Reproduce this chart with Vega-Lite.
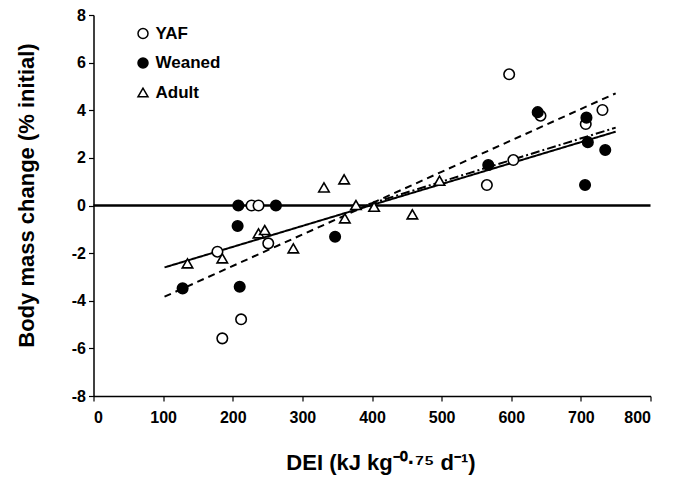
{
  "$schema": "https://vega.github.io/schema/vega-lite/v6.json",
  "autosize": {"type": "none"},
  "width": 557,
  "height": 381,
  "padding": {"left": 93.5, "top": 15, "right": 27.5, "bottom": 83},
  "background": "white",
  "config": {
    "view": {"stroke": null},
    "font": "Liberation Sans",
    "axis": {
      "grid": false,
      "domainColor": "black",
      "domainWidth": 1.5,
      "tickColor": "black",
      "tickWidth": 1.2,
      "tickSize": 5,
      "labelFont": "Liberation Sans",
      "labelFontWeight": "bold",
      "labelFontSize": 16,
      "labelColor": "black",
      "titleFont": "Liberation Sans",
      "titleFontWeight": "bold",
      "titleColor": "black",
      "labelOverlap": false
    }
  },
  "datasets": {
    "points": [
      {"group": "YAF", "dei": 227, "change": 0},
      {"group": "YAF", "dei": 237, "change": 0},
      {"group": "YAF", "dei": 251, "change": -1.59},
      {"group": "YAF", "dei": 178, "change": -1.94},
      {"group": "YAF", "dei": 212, "change": -4.78},
      {"group": "YAF", "dei": 185, "change": -5.58},
      {"group": "YAF", "dei": 565, "change": 0.86},
      {"group": "YAF", "dei": 597, "change": 5.51},
      {"group": "YAF", "dei": 642, "change": 3.77},
      {"group": "YAF", "dei": 707, "change": 3.42},
      {"group": "YAF", "dei": 731, "change": 4.01},
      {"group": "YAF", "dei": 603, "change": 1.91},
      {"group": "Weaned", "dei": 208, "change": 0},
      {"group": "Weaned", "dei": 262, "change": 0},
      {"group": "Weaned", "dei": 207, "change": -0.86},
      {"group": "Weaned", "dei": 128, "change": -3.48},
      {"group": "Weaned", "dei": 210, "change": -3.41},
      {"group": "Weaned", "dei": 347, "change": -1.31},
      {"group": "Weaned", "dei": 567, "change": 1.7},
      {"group": "Weaned", "dei": 638, "change": 3.92},
      {"group": "Weaned", "dei": 708, "change": 3.69},
      {"group": "Weaned", "dei": 710, "change": 2.66},
      {"group": "Weaned", "dei": 735, "change": 2.33},
      {"group": "Weaned", "dei": 706, "change": 0.86},
      {"group": "Adult", "dei": 237, "change": -1.17},
      {"group": "Adult", "dei": 246, "change": -1.03},
      {"group": "Adult", "dei": 185, "change": -2.22},
      {"group": "Adult", "dei": 135, "change": -2.43},
      {"group": "Adult", "dei": 331, "change": 0.76},
      {"group": "Adult", "dei": 360, "change": 1.1},
      {"group": "Adult", "dei": 287, "change": -1.8},
      {"group": "Adult", "dei": 361, "change": -0.54},
      {"group": "Adult", "dei": 377, "change": 0.02},
      {"group": "Adult", "dei": 403, "change": -0.05},
      {"group": "Adult", "dei": 458, "change": -0.37},
      {"group": "Adult", "dei": 497, "change": 1.04}
    ],
    "fits": [
      {"fit": "solid", "dei": 102, "change": -2.6},
      {"fit": "solid", "dei": 750, "change": 3.1},
      {"fit": "dashed", "dei": 102, "change": -3.83},
      {"fit": "dashed", "dei": 750, "change": 4.71},
      {"fit": "dashdot", "dei": 395, "change": 0.05},
      {"fit": "dashdot", "dei": 750, "change": 3.27}
    ],
    "zero": [
      {"dei": 0, "dei2": 800, "change": 0}
    ]
  },
  "layer": [
    {
      "data": {"name": "zero"},
      "mark": {"type": "rule", "color": "black", "strokeWidth": 2.5},
      "encoding": {
        "x": {"field": "dei", "type": "quantitative"},
        "x2": {"field": "dei2"},
        "y": {"field": "change", "type": "quantitative"}
      }
    },
    {
      "data": {"name": "fits"},
      "mark": {"type": "line", "color": "black", "strokeWidth": 2},
      "encoding": {
        "x": {"field": "dei", "type": "quantitative"},
        "y": {"field": "change", "type": "quantitative"},
        "detail": {"field": "fit"},
        "strokeDash": {
          "field": "fit",
          "type": "nominal",
          "scale": {"domain": ["solid", "dashed", "dashdot"], "range": [[1, 0], [7, 5], [9, 3, 2, 3]]},
          "legend": null
        }
      }
    },
    {
      "data": {"name": "points"},
      "mark": {"type": "point", "stroke": "black", "strokeWidth": 1.6, "size": 110, "opacity": 1},
      "encoding": {
        "x": {
          "field": "dei",
          "type": "quantitative",
          "scale": {"domain": [0, 800], "nice": false, "zero": false},
          "axis": {
            "values": [0, 50, 100, 150, 200, 250, 300, 350, 400, 450, 500, 550, 600, 650, 700, 750, 800],
            "labelExpr": "datum.value % 100 === 0 ? datum.label : ''",
            "labelPadding": 8,
            "title": "DEI (kJ kg⁻⁰·⁷⁵ d⁻¹)",
            "titleFontSize": 22,
            "titlePadding": 27,
            "titleX": 287
          }
        },
        "y": {
          "field": "change",
          "type": "quantitative",
          "scale": {"domain": [-8, 8], "nice": false},
          "axis": {
            "values": [-8, -7, -6, -5, -4, -3, -2, -1, 0, 1, 2, 3, 4, 5, 6, 7, 8],
            "labelExpr": "datum.value % 2 === 0 ? ('' + datum.value) : ''",
            "labelPadding": 3,
            "title": "Body mass change (% initial)",
            "titleFontSize": 22,
            "titlePadding": 33,
            "titleY": 180
          }
        },
        "shape": {
          "field": "group",
          "type": "nominal",
          "scale": {"domain": ["YAF", "Weaned", "Adult"], "range": ["circle", "circle", "triangle-up"]},
          "legend": {
            "title": null,
            "orient": "none",
            "legendX": 41,
            "legendY": 10,
            "labelFont": "Liberation Sans",
            "labelFontWeight": "bold",
            "labelFontSize": 17,
            "labelColor": "black",
            "rowPadding": 11.5,
            "symbolSize": 100,
            "encode": {"symbols": {"update": {"stroke": {"value": "black"}, "strokeWidth": {"value": 2}, "opacity": {"value": 1}}}}
          }
        },
        "fill": {
          "field": "group",
          "type": "nominal",
          "scale": {"domain": ["YAF", "Weaned", "Adult"], "range": ["white", "black", "white"]},
          "legend": {
            "title": null,
            "orient": "none",
            "legendX": 41,
            "legendY": 10,
            "labelFont": "Liberation Sans",
            "labelFontWeight": "bold",
            "labelFontSize": 17,
            "labelColor": "black",
            "rowPadding": 11.5,
            "symbolSize": 100,
            "encode": {"symbols": {"update": {"stroke": {"value": "black"}, "strokeWidth": {"value": 2}, "opacity": {"value": 1}}}}
          }
        }
      }
    }
  ]
}
